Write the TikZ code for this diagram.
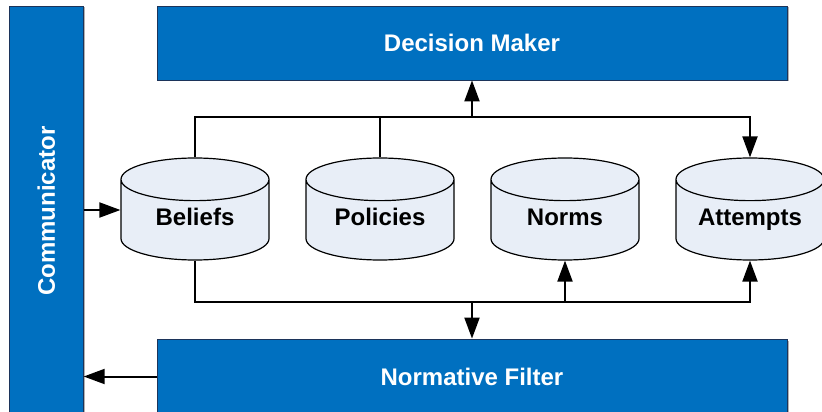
\documentclass[tikz,border=0pt]{standalone}
\usepackage{fontspec}
\setmainfont{Liberation Sans}
\usepackage{tikz}
\usetikzlibrary{arrows.meta,shapes.geometric,shadows,calc}
\definecolor{blockblue}{RGB}{0,112,192}
\definecolor{blockedge}{RGB}{28,52,90}
\definecolor{storefill}{RGB}{232,238,247}
\newcommand{\storebody}{\phantom{Attempts}}
\tikzset{
  block/.style={rectangle, draw=blockedge, line width=0.8pt, fill=blockblue, text=white,
    font=\fontsize{24}{28}\selectfont\bfseries, inner sep=0pt,
    drop shadow={shadow xshift=1.5pt, shadow yshift=-1.5pt, fill=black!30, opacity=1}},
  store/.style={cylinder, shape border rotate=90, aspect=0.41, draw=black, line width=1.2pt,
    fill=storefill, minimum width=148pt, minimum height=102pt, inner sep=0pt,
    text height=12pt, text depth=0pt, anchor=shape center,
    font=\fontsize{24}{28}\selectfont\bfseries},
  storename/.style={anchor=base, inner sep=0pt, font=\fontsize{24}{28}\selectfont\bfseries},
  flow/.style={line width=2pt, -{Triangle[length=21pt,width=15pt]}},
  wire/.style={line width=2pt}
}
\begin{document}
\begin{tikzpicture}[x=1pt,y=-1pt]
\useasboundingbox (0,0) rectangle (822,412);
\begin{scope}
\clip (0,0) rectangle (822,412);
\node[block, minimum width=74pt, minimum height=410pt] (comm) at (46.3,211) {\rotatebox{90}{Communicator}};
\node[block, minimum width=630pt, minimum height=74pt] (dm) at (472,43) {Decision Maker};
\node[block, minimum width=630pt, minimum height=75pt] (nf) at (472,376.5) {Normative Filter};
\end{scope}
\node[store] (beliefs) at (195,209) {\storebody};
\node[store] (policies) at (380,209) {\storebody};
\node[store] (norms) at (565,209) {\storebody};
\node[store] (attempts) at (750,209) {\storebody};
\node[storename] (beliefs-name) at (195,225.5) {Beliefs};
\node[storename] (policies-name) at (380,225.5) {Policies};
\node[storename] (norms-name) at (565,225.5) {Norms};
\node[storename] (attempts-name) at (750,225.5) {Attempts};
\coordinate (upbus) at (472,117);
\coordinate (downbus) at (472,302);
\draw[flow] (beliefs.north) |- (upbus) -| (attempts.north);
\draw[wire] (policies.north) -- (policies.north |- upbus);
\draw[flow] (upbus) -- (dm.south);
\draw[flow] (beliefs.south) |- (downbus) -| (attempts.south);
\draw[flow] (norms.south |- downbus) -- (norms.south);
\draw[flow] (downbus) -- (nf.north);
\draw[flow] (comm.east |- 0,210) -- (beliefs.west |- 0,210);
\draw[flow] (nf.west) -- (nf.west -| comm.east);
\end{tikzpicture}
\end{document}
